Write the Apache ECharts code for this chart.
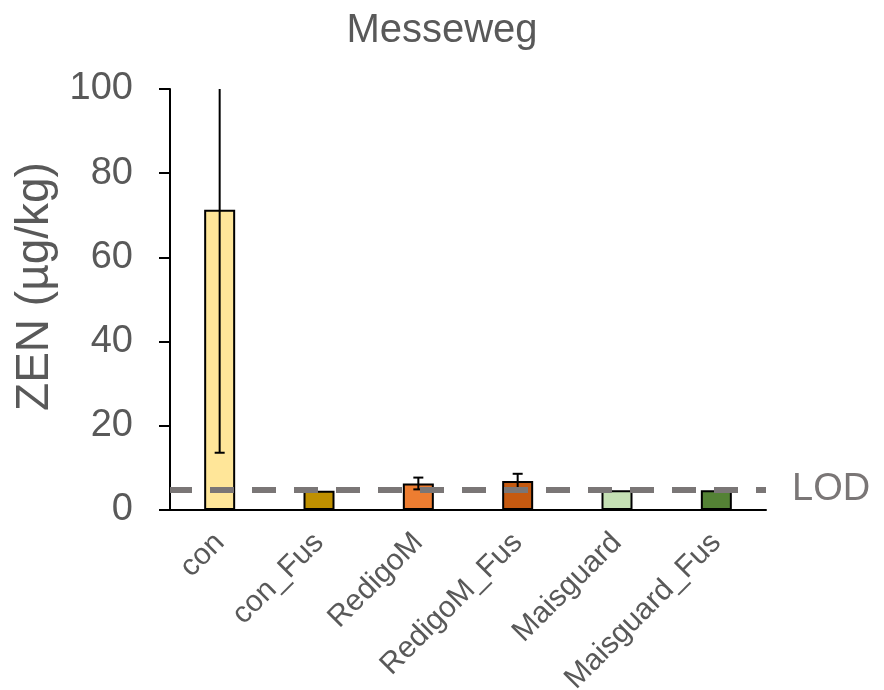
<!DOCTYPE html>
<html>
<head>
<meta charset="utf-8">
<script src="https://cdn.jsdelivr.net/npm/echarts@6/dist/echarts.min.js"></script>
<style>
  html, body { margin: 0; padding: 0; background: #ffffff; }
  #chart { width: 884px; height: 690px; }
</style>
</head>
<body>
<div id="chart"></div>
<script>
// ZEN content per treatment at the Messeweg site
const categories = ['con', 'con_Fus', 'RedigoM', 'RedigoM_Fus', 'Maisguard', 'Maisguard_Fus'];
const means = [71.3, 4.6, 6.3, 6.9, 4.7, 4.7];
const errors = [57.7, 0, 1.4, 1.7, 0, 0];
const barColors = ['#FFE699', '#BF9000', '#ED7D31', '#C55A11', '#C5E0B4', '#548235'];
const lodValue = 4.9;
const yMin = 0, yMax = 100, yStep = 20;

const FONT = '"Liberation Sans", Arial, sans-serif';
const TEXT = '#595959';

const chart = echarts.init(document.getElementById('chart'), null, { renderer: 'canvas' });

const barData = means.map((v, i) => ({
  value: v,
  itemStyle: { color: barColors[i], borderColor: '#000000', borderWidth: 2 }
}));

const errData = means.map((v, i) => [i, v, errors[i]]);

// Symmetric error whisker with caps; clipped to the plot area
function renderError(params, api) {
  const idx = api.value(0);
  const mean = api.value(1);
  const err = api.value(2);
  if (!err) return null;
  const hi = api.coord([idx, mean + err]);
  const lo = api.coord([idx, mean - err]);
  const half = 5;
  const style = { stroke: '#000000', lineWidth: 2 };
  return {
    type: 'group',
    children: [
      { type: 'line', shape: { x1: hi[0], y1: hi[1], x2: lo[0], y2: lo[1] }, style },
      { type: 'line', shape: { x1: hi[0] - half, y1: hi[1], x2: hi[0] + half, y2: hi[1] }, style },
      { type: 'line', shape: { x1: lo[0] - half, y1: lo[1], x2: lo[0] + half, y2: lo[1] }, style }
    ]
  };
}

chart.setOption({
  animation: false,
  backgroundColor: '#ffffff',
  title: {
    text: 'Messeweg',
    left: 'center',
    top: 6,
    textStyle: { fontFamily: FONT, fontSize: 40, fontWeight: 'normal', color: TEXT }
  },
  grid: {
    left: 170, top: 89, width: 596, bottom: 180,
    containLabel: false,
    outerBoundsMode: 'none'
  },
  xAxis: {
    type: 'category',
    data: categories,
    axisLine: { lineStyle: { color: '#000000', width: 2 } },
    axisTick: { show: false },
    axisLabel: {
      rotate: 45,
      margin: 28,
      fontFamily: FONT,
      fontSize: 30,
      color: TEXT,
      interval: 0
    }
  },
  yAxis: {
    type: 'value',
    min: yMin,
    max: yMax,
    interval: yStep,
    name: 'ZEN (µg/kg)',
    nameLocation: 'middle',
    nameGap: 106,
    nameTextStyle: { fontFamily: FONT, fontSize: 46, color: TEXT, padding: [0, 0, 0, 26] },
    axisLine: { show: true, lineStyle: { color: '#000000', width: 2 } },
    axisTick: { show: true, length: 11, lineStyle: { color: '#000000', width: 2 } },
    axisLabel: { margin: 37, fontFamily: FONT, fontSize: 38, color: TEXT },
    splitLine: { show: false }
  },
  series: [
    {
      type: 'bar',
      data: barData,
      barWidth: 31,
      z: 2,
      markLine: {
        silent: true,
        symbol: ['none', 'none'],
        z: 5,
        lineStyle: { color: '#7a7676', width: 6, type: [24, 18], dashOffset: 2 },
        label: {
          show: true,
          position: 'end',
          formatter: 'LOD',
          distance: 26,
          fontFamily: FONT,
          fontSize: 38,
          color: '#7a7676'
        },
        data: [{ yAxis: lodValue }]
      }
    },
    {
      type: 'custom',
      renderItem: renderError,
      data: errData,
      clip: true,
      z: 3
    }
  ]
});
</script>
</body>
</html>
